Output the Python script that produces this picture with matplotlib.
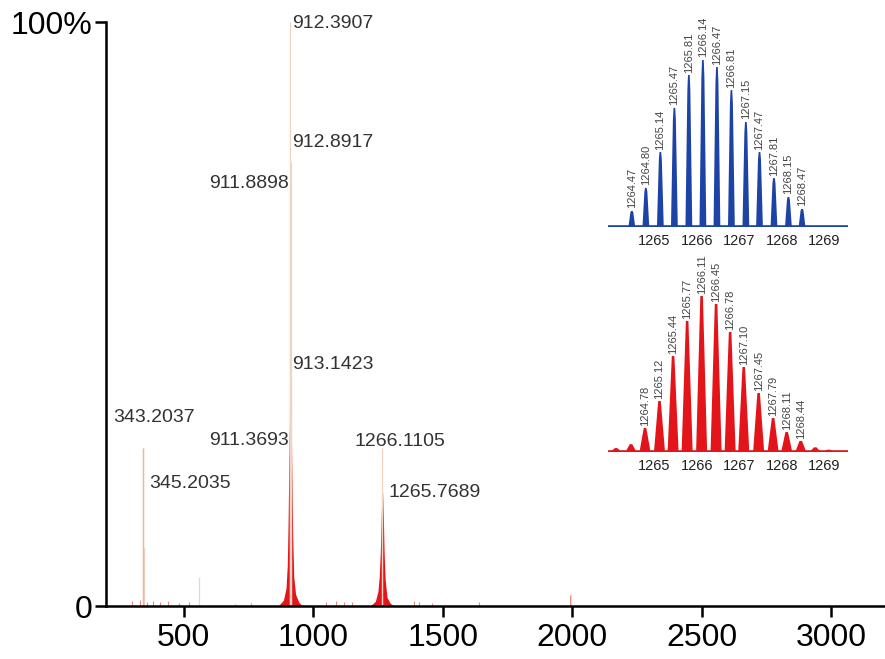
import numpy as np
import matplotlib
matplotlib.use("Agg")
import matplotlib.pyplot as plt

plt.rcParams['font.family'] = ['Liberation Sans', 'DejaVu Sans']

# main spectrum: centroid sticks (m/z, relative intensity %)
stick_mz = [343.2037, 345.2035, 560.0, 911.3693, 911.8898, 912.3907, 912.8917, 913.1423,
            1265.7689, 1266.1105, 1995.0]
stick_int = [27.0, 10.0, 5.0, 34.0, 72.0, 100.0, 76.0, 39.0, 19.0, 27.0, 2.0]

# small baseline noise
noise_mz = [300, 330, 360, 380, 410, 440, 480, 520, 700, 760, 1050, 1090, 1120, 1150,
            1390, 1410, 1460, 1640, 1990]
noise_int = [0.8, 1.0, 0.7, 0.9, 0.6, 0.8, 0.5, 0.6, 0.4, 0.5, 0.6, 0.8, 0.7, 0.6,
             0.9, 0.7, 0.5, 0.6, 1.8]

# red profile envelopes of the two clusters
env1_mz = [865, 885, 895, 900, 903, 906, 909, 912, 915, 918, 921, 925, 932, 945, 960]
env1_int = [0, 1.0, 3.0, 7.0, 14.0, 24.0, 33.0, 36.0, 32.0, 22.0, 12.0, 5.0, 2.0, 0.6, 0]
env2_mz = [1220, 1240, 1250, 1255, 1259, 1262, 1265, 1268, 1271, 1274, 1278, 1285, 1297, 1312]
env2_int = [0, 0.8, 2.5, 5.0, 9.0, 14.0, 19.0, 19.5, 15.0, 9.0, 4.5, 1.5, 0.5, 0]

peak_labels = ['912.3907', '912.8917', '911.8898', '913.1423', '911.3693',
               '343.2037', '345.2035', '1266.1105', '1265.7689']
label_x = [919, 919, 908, 919, 908, 227, 365, 1158, 1292]
label_y = [99.8, 79.3, 72.4, 41.3, 28.4, 32.2, 20.9, 28.1, 19.5]
label_ha = ['left', 'left', 'right', 'left', 'right', 'left', 'left', 'left', 'left']

# insets: isotope patterns
blue_mz = [1264.47, 1264.80, 1265.14, 1265.47, 1265.81, 1266.14, 1266.47, 1266.81,
           1267.15, 1267.47, 1267.81, 1268.15, 1268.47]
blue_int = [9.6, 23.4, 44.9, 71.3, 91.0, 100.0, 95.8, 82.0, 62.9, 44.9, 29.3, 18.0, 10.8]

red_mz = [1264.78, 1265.12, 1265.44, 1265.77, 1266.11, 1266.45, 1266.78, 1267.10,
          1267.45, 1267.79, 1268.11, 1268.44]
red_int = [15.4, 32.7, 61.5, 84.0, 100.0, 94.9, 76.9, 54.5, 37.8, 21.8, 12.8, 7.1]
red_minor_mz = [1264.10, 1264.45, 1268.78, 1269.10]
red_minor_int = [2.5, 5.0, 3.0, 1.5]

inset_ticks = [1265, 1266, 1267, 1268, 1269]

W, H = 885, 659
fig = plt.figure(figsize=(W / 100, H / 100), dpi=100)
ax = fig.add_axes([106 / W, 1 - 606 / H, (W - 106) / W, (606 - 22) / H])

peach = '#f2d2c0'
red = '#e3151b'
blue = '#1d43a6'

ax.vlines(noise_mz, 0, noise_int, color='#e88a80', lw=0.8)
ax.fill_between(env1_mz, env1_int, color=red, lw=0)
ax.fill_between(env2_mz, env2_int, color=red, lw=0)
ax.vlines(stick_mz, 0, stick_int, color=peach, lw=0.9)
ax.vlines(stick_mz[:1], 0, stick_int[:1], color='#e9b79c', lw=1.0)

for t, x, y, ha in zip(peak_labels, label_x, label_y, label_ha):
    ax.text(x, y, t, ha=ha, va='center', fontsize=14, color='#333333')

ax.set_xlim(200, 3208)
ax.set_ylim(0, 100)
ax.set_xticks([500, 1000, 1500, 2000, 2500, 3000])
ax.set_yticks([0, 100])
ax.set_yticklabels(['0', '100%'])
for s in ['top', 'right']:
    ax.spines[s].set_visible(False)
for s in ['left', 'bottom']:
    ax.spines[s].set_linewidth(1.8)
ax.tick_params(axis='both', width=1.8, length=8, labelsize=23, pad=4)
ax.tick_params(axis='y', pad=2)
ax.patch.set_alpha(0)


def inset(left, base, top, mz, inten, color, triangle, minor_mz=None, minor_int=None):
    a = fig.add_axes([left / W, 1 - base / H, 240 / W, (base - top) / H])
    a.set_xlim(1263.91, 1269.55)
    a.set_ylim(0, 100)
    if triangle:
        for m, h in zip(list(mz) + list(minor_mz), list(inten) + list(minor_int)):
            a.fill([m - 0.13, m - 0.03, m + 0.03, m + 0.13], [0, h, h, 0],
                   color=color, lw=0)
    else:
        for m, h in zip(mz, inten):
            a.fill([m - 0.08, m - 0.035, m - 0.02, m + 0.02, m + 0.035, m + 0.08],
                   [0, h * 0.9, h, h, h * 0.9, 0], color=color, lw=0)
    a.plot([1263.91, 1269.55], [0, 0], color=color, lw=2.6, solid_capstyle='butt')
    for m, h in zip(mz, inten):
        a.text(m, h + 1.5, f'{m:.2f}', rotation=90, ha='center', va='bottom',
               fontsize=8, color='#444444', clip_on=False)
    a.set_xticks(inset_ticks)
    a.set_yticks([])
    a.tick_params(axis='x', length=0, labelsize=10.5, pad=5, labelcolor='#222222')
    for s in a.spines.values():
        s.set_visible(False)
    a.patch.set_alpha(0)
    return a


inset(608, 227, 60, blue_mz, blue_int, blue, False)
inset(608, 452, 296, red_mz, red_int, red, True, red_minor_mz, red_minor_int)

fig.savefig('out.png', dpi=100)
